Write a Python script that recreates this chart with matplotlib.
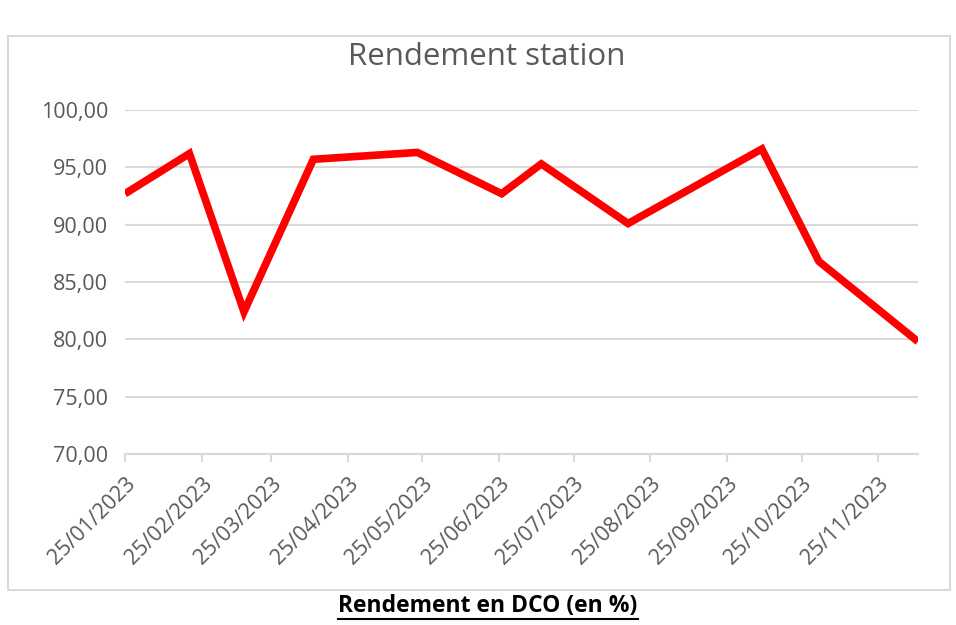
import datetime as dt
import matplotlib
matplotlib.use("Agg")
import matplotlib.pyplot as plt
import matplotlib.dates as mdates
from matplotlib.patches import Rectangle
from matplotlib.ticker import FuncFormatter, MultipleLocator

# data
dates = ["2023-01-25", "2023-02-20", "2023-03-14", "2023-04-11", "2023-05-23",
         "2023-06-26", "2023-07-12", "2023-08-16", "2023-10-09", "2023-11-01",
         "2023-12-11"]
rendement = [92.7, 96.2, 82.4, 95.7, 96.3, 92.7, 95.3, 90.1, 96.6, 86.8, 79.8]

title = "Rendement station"
caption = "Rendement en DCO (en %)"

plt.rcParams['font.family'] = ['Open Sans', 'DejaVu Sans']
grey = '#595959'
light = '#d9d9d9'

x = [dt.datetime.strptime(d, "%Y-%m-%d") for d in dates]

fig = plt.figure(figsize=(9.56, 6.25), dpi=100)
ax = fig.add_axes([125/956, 1 - 454/625, (918-125)/956, (454-110)/625])

# chart frame like excel
fig.patches.append(Rectangle((8/956, 1 - 590/625), 942/956, 554/625,
                             transform=fig.transFigure, fill=False,
                             edgecolor=light, linewidth=1.5))

ax.plot(x, rendement, color='#ff0000', linewidth=5.5, solid_joinstyle='miter',
        solid_capstyle='butt', zorder=3)

ax.set_ylim(70, 100)
ax.set_xlim(x[0], x[-1])
ax.yaxis.set_major_locator(MultipleLocator(5))
ax.yaxis.set_major_formatter(FuncFormatter(lambda v, p: ("%.2f" % v).replace('.', ',')))
ax.xaxis.set_major_locator(mdates.MonthLocator(bymonthday=25))
ax.xaxis.set_major_formatter(mdates.DateFormatter("%d/%m/%Y"))

ax.grid(axis='y', color=light, linewidth=1.5)
ax.set_axisbelow(True)
for s in ['top', 'right', 'left']:
    ax.spines[s].set_visible(False)
ax.spines['bottom'].set_color(light)
ax.spines['bottom'].set_linewidth(1.5)
ax.tick_params(axis='y', length=0, pad=12, labelsize=15.5, labelcolor=grey)
ax.tick_params(axis='x', length=6, width=1.5, color=light, labelsize=15.5,
               labelcolor=grey, pad=8)
for lab in ax.get_xticklabels():
    lab.set_rotation(45)
    lab.set_ha('right')
    lab.set_rotation_mode('anchor')

fig.text(487/956, 1 - 57/625, title, ha='center', va='center', fontsize=22.5, color=grey)
cap = fig.text(488/956, 1 - 606/625, caption, ha='center', va='center', fontsize=16.5,
               fontweight='bold', color='black')

# underline under the caption, same width as the text
fig.canvas.draw()
bb = cap.get_window_extent().transformed(fig.transFigure.inverted())
fig.add_artist(plt.Line2D([bb.x0, bb.x1], [1 - 619/625, 1 - 619/625],
                          transform=fig.transFigure, color='black', linewidth=1.5))

fig.savefig("out.png", dpi=100)
